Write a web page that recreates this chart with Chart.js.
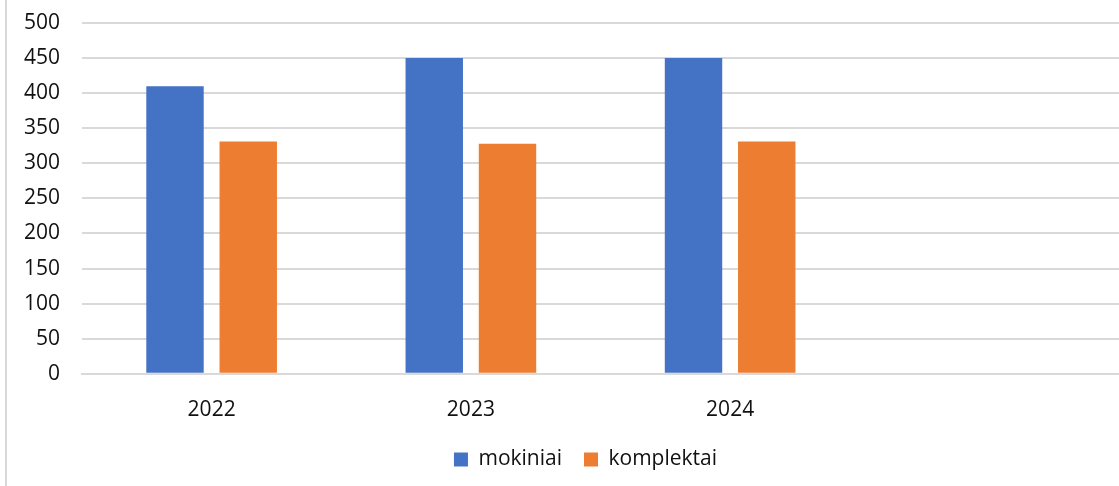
<!DOCTYPE html>
<html>
<head>
<meta charset="utf-8">
<script src="https://cdn.jsdelivr.net/npm/chart.js@4"></script>
<style>
  html, body { margin: 0; padding: 0; background: #fff; }
  #wrap { position: relative; width: 1119px; height: 486px; }
  #wrap:before { content: ''; position: absolute; left: 5px; top: 0; bottom: 0; border-left: 2px solid #d9d9d9; }
</style>
</head>
<body>
<div id="wrap"><canvas id="barChart" width="1119" height="486"></canvas></div>
<script>
// duomenys
const years = ['2022', '2023', '2024', ''];
const mokiniai = [410, 450, 450, null];
const komplektai = [331, 328, 331, null];
const yTicks = [0, 50, 100, 150, 200, 250, 300, 350, 400, 450, 500];

const font = { family: "'Open Sans', sans-serif", size: 21 };
const gridColor = '#d9d9d9';

// legenda pastumiama, kaip originale
const legendShift = {
    id: 'legendShift',
    afterLayout(chart) {
        const lg = chart.legend;
        lg.left += 26;
        lg.right += 26;
        lg.top -= 20;
        lg.bottom = chart.height;
        lg.height = lg.bottom - lg.top;
    }
};

const ctx = document.getElementById('barChart').getContext('2d');
new Chart(ctx, {
    type: 'bar',
    data: {
        labels: years,
        datasets: [{
            label: 'mokiniai',
            data: mokiniai,
            backgroundColor: '#4472C4',
            categoryPercentage: 0.565,
            barPercentage: 0.784
        }, {
            label: 'komplektai',
            data: komplektai,
            backgroundColor: '#ED7D31',
            categoryPercentage: 0.565,
            barPercentage: 0.784
        }]
    },
    options: {
        responsive: false,
        animation: false,
        layout: { padding: { top: 23, right: 0, bottom: 4, left: 0 } },
        plugins: {
            tooltip: { enabled: false },
            legend: {
                position: 'bottom',
                maxHeight: 35,
                labels: {
                    font: font,
                    color: '#111',
                    boxWidth: 14,
                    boxHeight: 14,
                    padding: 22
                }
            }
        },
        scales: {
            x: {
                grid: { display: false, drawTicks: false },
                border: { color: gridColor, width: 2 },
                ticks: { font: font, color: '#111', padding: 24 }
            },
            y: {
                min: 0,
                max: 500,
                afterBuildTicks: function (scale) {
                    scale.ticks = yTicks.map(v => ({ value: v }));
                },
                afterFit: function (scale) { scale.width = 82; },
                grid: { color: gridColor, lineWidth: 2, drawTicks: true, tickLength: 22, tickColor: 'rgba(0,0,0,0)' },
                border: { display: false },
                ticks: { font: font, color: '#111', padding: 0 }
            }
        }
    },
    plugins: [legendShift]
});
</script>
</body>
</html>
